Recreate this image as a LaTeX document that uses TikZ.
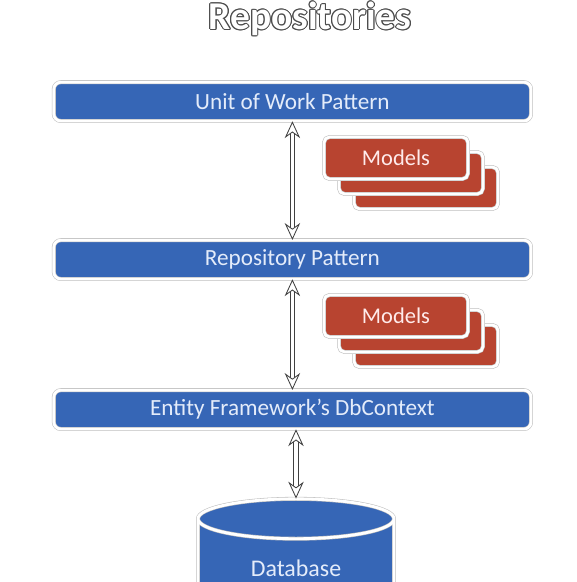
\documentclass[tikz,border=0pt]{standalone}
\usepackage{fontspec}
\setmainfont{Carlito}
\usetikzlibrary{positioning,arrows.meta,shapes.geometric}

\definecolor{layerblue}{RGB}{54,102,182}
\definecolor{modelred}{RGB}{184,68,48}
\definecolor{labeltext}{RGB}{228,236,250}

\tikzset{
  layer/.style={draw=black!25, double=white, double distance=2pt, fill=layerblue,
    rounded corners=5pt, minimum width=11.93cm, minimum height=0.97cm,
    text=labeltext, font=\fontsize{16.5}{19}\selectfont},
  model/.style={draw=black!25, double=white, double distance=2pt, fill=modelred,
    rounded corners=4pt, minimum width=3.6cm, minimum height=1.05cm,
    text=white!92!red, font=\fontsize{16}{19}\selectfont},
  link/.style={draw=black!75, line width=0.6pt, double=white, double distance=2.6pt,
    {Stealth[open, fill=white, length=12pt, width=11pt, inset=4pt]}-{Stealth[open, fill=white, length=12pt, width=11pt, inset=4pt]}},
  titletext/.style={font=\fontsize{28}{32}\selectfont\bfseries}
}

\begin{document}
\begin{tikzpicture}
    \useasboundingbox (0,0) rectangle (14.4,14.55);
    \clip (0,0) rectangle (14.4,14.55);

    % Title (outlined)
    \foreach \a in {0,30,...,330}
        \node[titletext, text=black!70] (t\a) at ([shift={(\a:0.7pt)}]7.75,14.08) {Repositories};
    \node[titletext, text=white] (title) at (7.75,14.08) {Repositories};

    % Layers
    \node[layer] (uow) at (7.31,12.01) {Unit of Work Pattern};
    \node[layer] (repo) at (7.31,8.06) {Repository Pattern};
    \node[layer] (ef) at (7.31,4.31) {Entity Framework's DbContext};

    % Models, stacked
    \node[model] (m1c) at (10.65,9.85) {};
    \node[model] (m1b) at (10.275,10.225) {};
    \node[model] (m1a) at (9.9,10.6) {Models};

    \node[model] (m2c) at (10.65,5.9) {};
    \node[model] (m2b) at (10.275,6.275) {};
    \node[model] (m2a) at (9.9,6.65) {Models};

    % Database
    \node[cylinder, shape border rotate=90, aspect=0.4, draw=black!25, double=white,
        double distance=2pt, fill=layerblue, minimum width=4.9cm, minimum height=2.8cm,
        text=labeltext, font=\fontsize{17}{20}\selectfont] (db) at (7.4,0.35) {Database};

    % Arrows
    \draw[link] (uow) -- (repo);
    \draw[link] (repo) -- (ef);
    \draw[link] (db.north |- ef.south) -- (db.north);
\end{tikzpicture}
\end{document}
